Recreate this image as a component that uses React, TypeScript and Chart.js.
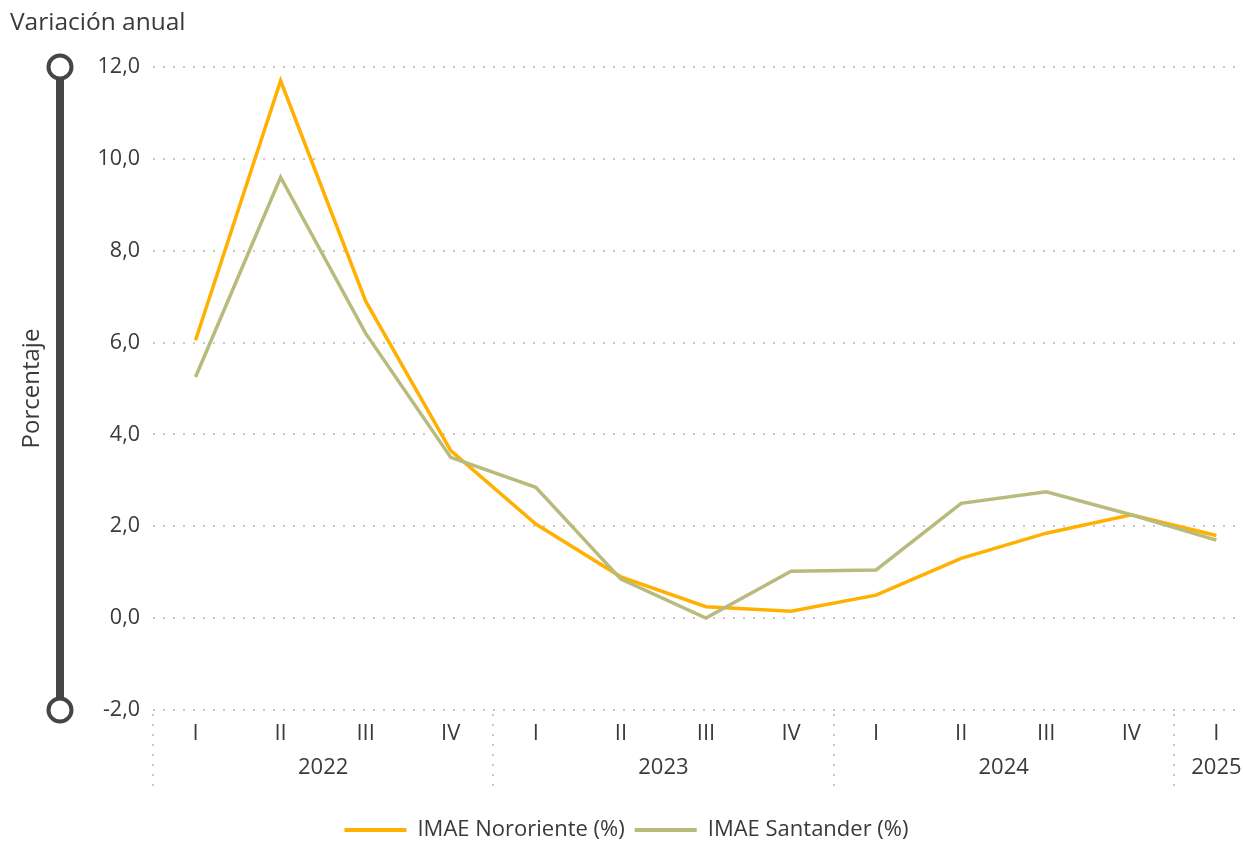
import React, { useEffect, useRef } from "react";
import { Chart, registerables } from "chart.js";

Chart.register(...registerables);

// ---- Data ----
const quarters = ["I", "II", "III", "IV", "I", "II", "III", "IV", "I", "II", "III", "IV", "I"];
const years = ["2022", "2023", "2024", "2025"];
const yearStart = [0, 4, 8, 12];
const yearEnd = [3, 7, 11, 12];
const nororiente = [6.05, 11.7, 6.9, 3.65, 2.05, 0.9, 0.25, 0.15, 0.5, 1.3, 1.85, 2.25, 1.8];
const santander = [5.25, 9.6, 6.2, 3.5, 2.85, 0.85, 0.0, 1.02, 1.05, 2.5, 2.75, 2.25, 1.7];
const yTicks = [-2, 0, 2, 4, 6, 8, 10, 12];

const FONT = "'Segoe UI', 'Open Sans', 'Noto Sans', sans-serif";
const ORANGE = "#FFB000";
const OLIVE = "#B9BB7D";
const TEXT = "#3a3a3a";

const decorPlugin = {
  id: "decor",
  afterDraw(chart: any) {
    const { ctx, scales, chartArea } = chart;
    const x = scales.x;
    const y = scales.y;
    ctx.save();
    // vertical decorative bar with circles
    const top = y.getPixelForValue(12);
    const bot = y.getPixelForValue(-2);
    const bx = 60;
    ctx.strokeStyle = "#454545";
    ctx.lineWidth = 8;
    ctx.beginPath();
    ctx.moveTo(bx, top);
    ctx.lineTo(bx, bot);
    ctx.stroke();
    for (const cy of [top, bot]) {
      ctx.beginPath();
      ctx.arc(bx, cy, 11.5, 0, Math.PI * 2);
      ctx.fillStyle = "#ffffff";
      ctx.fill();
      ctx.lineWidth = 4;
      ctx.stroke();
    }
    // group separators
    ctx.strokeStyle = "#c8c8c8";
    ctx.lineWidth = 2;
    ctx.setLineDash([2, 8]);
    const bounds = [yearStart[0] - 0.5, ...yearEnd.slice(0, 3).map((e) => e + 0.5)];
    for (const b of bounds) {
      const px = Math.round(x.getPixelForValue(b));
      ctx.beginPath();
      ctx.moveTo(px, chartArea.bottom + 4);
      ctx.lineTo(px, 792);
      ctx.stroke();
    }
    ctx.setLineDash([]);
    // year labels
    ctx.fillStyle = TEXT;
    ctx.font = `22px ${FONT}`;
    ctx.textAlign = "center";
    ctx.textBaseline = "middle";
    years.forEach((yr, i) => {
      const px = x.getPixelForValue((yearStart[i] + yearEnd[i]) / 2);
      ctx.fillText(yr, px, 768);
    });
    ctx.restore();
  },
};

export default function App() {
  const ref = useRef<HTMLCanvasElement>(null);

  useEffect(() => {
    if (!ref.current) return;
    const chart = new Chart(ref.current, {
      type: "line",
      data: {
        datasets: [
          {
            label: "IMAE Nororiente (%)",
            data: nororiente.map((v, i) => ({ x: i, y: v })),
            borderColor: ORANGE,
            backgroundColor: ORANGE,
            borderWidth: 3.5,
            pointRadius: 0,
            tension: 0,
            order: 1,
          },
          {
            label: "IMAE Santander (%)",
            data: santander.map((v, i) => ({ x: i, y: v })),
            borderColor: OLIVE,
            backgroundColor: OLIVE,
            borderWidth: 3.5,
            pointRadius: 0,
            tension: 0,
            order: 0,
          },
        ],
      },
      options: {
        responsive: false,
        animation: false,
        layout: { padding: { left: 10, top: 0, right: 0, bottom: -9 } },
        plugins: {
          tooltip: { enabled: false },
          title: {
            display: true,
            text: "Variación anual",
            align: "start",
            color: TEXT,
            font: { family: FONT, size: 24.5, weight: "normal" },
            padding: { top: 8, bottom: 29.6 },
          },
          legend: {
            position: "bottom",
            labels: {
              boxWidth: 62,
              boxHeight: 4,
              padding: 10,
              color: TEXT,
              font: { family: FONT, size: 22 },
              sort: (a: any, b: any) => a.datasetIndex - b.datasetIndex,
              generateLabels: (chart: any) =>
                chart.data.datasets.map((d: any, i: number) => ({
                  text: d.label,
                  fillStyle: d.borderColor,
                  strokeStyle: d.borderColor,
                  lineWidth: 0,
                  datasetIndex: i,
                  hidden: false,
                  fontColor: TEXT,
                })),
            },
          },
        },
        scales: {
          x: {
            type: "linear",
            min: -0.5,
            max: -0.5 + 1090 / 85.07,
            grid: { display: false },
            border: { display: false },
            afterBuildTicks: (s: any) => {
              s.ticks = quarters.map((_, i) => ({ value: i }));
            },
            afterFit: (s: any) => {
              s.height = 99;
            },
            ticks: {
              autoSkip: false,
              maxRotation: 0,
              padding: 3,
              color: TEXT,
              font: { family: FONT, size: 22 },
              callback: (v: any) => quarters[v] ?? "",
            },
          },
          y: {
            min: -2,
            max: 12,
            afterBuildTicks: (s: any) => {
              s.ticks = yTicks.map((v) => ({ value: v }));
            },
            afterFit: (s: any) => {
              s.width = 143;
            },
            grid: { color: "#c8c8c8", lineWidth: 2, drawTicks: false },
            border: { display: false, dash: [2, 8] },
            title: {
              display: true,
              text: "Porcentaje",
              color: TEXT,
              font: { family: FONT, size: 24 },
              padding: { top: 8, bottom: 0 },
            },
            ticks: {
              padding: 13,
              color: TEXT,
              font: { family: FONT, size: 21.5 },
              callback: (v: any) => Number(v).toFixed(1).replace(".", ","),
            },
          },
        },
      },
      plugins: [decorPlugin],
    } as any);
    return () => chart.destroy();
  }, []);

  return (
    <div style={{ position: "fixed", left: 0, top: 0, width: 1243, height: 842, background: "#fff" }}>
      <canvas ref={ref} width={1243} height={842} style={{ width: 1243, height: 842 }} />
    </div>
  );
}
